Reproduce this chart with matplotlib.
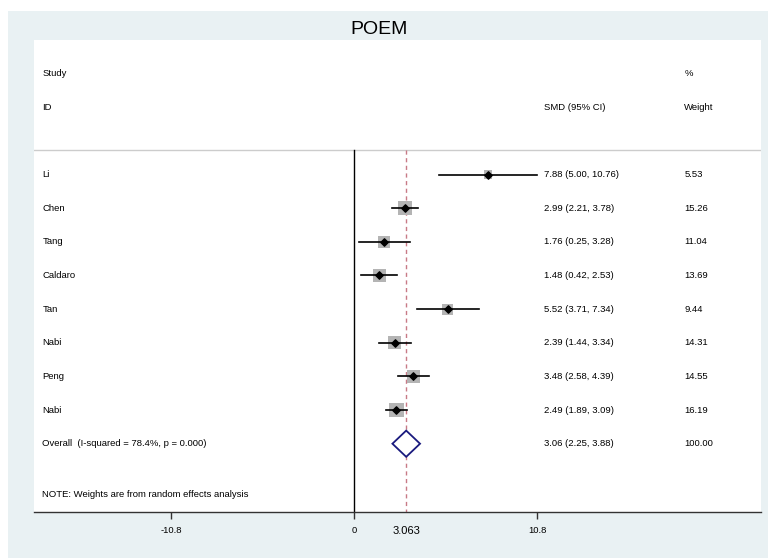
import numpy as np
import matplotlib
matplotlib.use("Agg")
import matplotlib.pyplot as plt
from matplotlib.patches import Rectangle, Polygon

plt.rcParams['font.family'] = ['Liberation Sans', 'DejaVu Sans']

# data
studies = ["Li", "Chen", "Tang", "Caldaro", "Tan", "Nabi", "Peng", "Nabi"]
smd = [7.88, 2.99, 1.76, 1.48, 5.52, 2.39, 3.48, 2.49]
lower = [5.00, 2.21, 0.25, 0.42, 3.71, 1.44, 2.58, 1.89]
upper = [10.76, 3.78, 3.28, 2.53, 7.34, 3.34, 4.39, 3.09]
weight = [5.53, 15.26, 11.04, 13.69, 9.44, 14.31, 14.55, 16.19]
overall = 3.063
overall_ci = (2.25, 3.88)
overall_weight = 100.00
overall_label = "Overall  (I-squared = 78.4%, p = 0.000)"
xticks = [-10.8, 0, 10.8]

W, H = 768, 558
fig = plt.figure(figsize=(W / 100, H / 100), dpi=100, facecolor="white")
fig.patches.append(Rectangle((8 / W, 0), 1, 1 - 11 / H, transform=fig.transFigure,
                             facecolor="#e9f1f3", edgecolor="none", zorder=-10))

ax = fig.add_axes([34 / W, 1 - 512 / H, (761 - 34) / W, (512 - 40) / H])
ax.set_facecolor("white")
ax.set_xlim(-18.9, 24.0)
ax.set_ylim(11.03, -3.0)
for s in ["top", "left", "right"]:
    ax.spines[s].set_visible(False)
ax.spines["bottom"].set_color("#333333")
ax.spines["bottom"].set_linewidth(1.0)
ax.set_yticks([])

fs = 6.8
xl, xc, xw = -18.4, 11.22, 19.48

# headers
ax.text(xl, -2, "Study", fontsize=fs, va="center")
ax.text(xl, -1, "ID", fontsize=fs, va="center")
ax.text(xw, -2, "%", fontsize=fs, va="center")
ax.text(xc, -1, "SMD (95% CI)", fontsize=fs, va="center")
ax.text(xw, -1, "Weight", fontsize=fs, va="center")
ax.axhline(0.26, color="#cccccc", lw=1.0)

# reference lines
ax.plot([0, 0], [0.26, 11.03], color="black", lw=1.0, zorder=2)
ax.plot([overall, overall], [0.26, 11.03], color="#c87a86", lw=1.0,
        ls=(0, (3, 2.5)), zorder=2)

rows = np.arange(1, len(studies) + 1)
for y, name, m, lo, hi, w in zip(rows, studies, smd, lower, upper, weight):
    side = 3.5 * np.sqrt(w) * 0.72
    ax.scatter([m], [y], marker="s", s=side ** 2, color="#b4b4b4",
               edgecolors="none", zorder=3)
    ax.plot([lo, hi], [y, y], color="black", lw=1.2, zorder=4)
    ax.scatter([m], [y], marker="D", s=14, color="black", zorder=5)
    ax.text(xl, y, name, fontsize=fs, va="center")
    ax.text(xc, y, f"{m:.2f} ({lo:.2f}, {hi:.2f})", fontsize=fs, va="center")
    ax.text(xw, y, f"{w:.2f}", fontsize=fs, va="center")

# pooled diamond
yo = len(studies) + 1
half = 0.39
ax.add_patch(Polygon([[overall_ci[0], yo], [overall, yo - half],
                      [overall_ci[1], yo], [overall, yo + half]],
                     closed=True, facecolor="white", edgecolor="#1a1a7e",
                     lw=1.3, zorder=5))
ax.text(xl, yo, overall_label, fontsize=fs, va="center")
ax.text(xc, yo, f"{overall:.2f} ({overall_ci[0]:.2f}, {overall_ci[1]:.2f})",
        fontsize=fs, va="center")
ax.text(xw, yo, f"{overall_weight:.2f}", fontsize=fs, va="center")

ax.text(xl, 10.52, "NOTE: Weights are from random effects analysis",
        fontsize=fs, va="center")

ax.set_xticks(xticks + [overall])
ax.set_xticklabels(["-10.8", "0", "10.8", "3.063"])
ax.tick_params(axis="x", direction="out", length=5, width=1.0,
               color="#333333", labelsize=fs, pad=5)
labs = ax.get_xticklabels()
labs[3].set_fontsize(8)
ax.get_xaxis().get_major_ticks()[3].tick1line.set_visible(False)

fig.text(379 / W, 1 - 30 / H, "POEM", fontsize=14, ha="center", va="center")

fig.savefig("out.png", dpi=100, facecolor="white")
